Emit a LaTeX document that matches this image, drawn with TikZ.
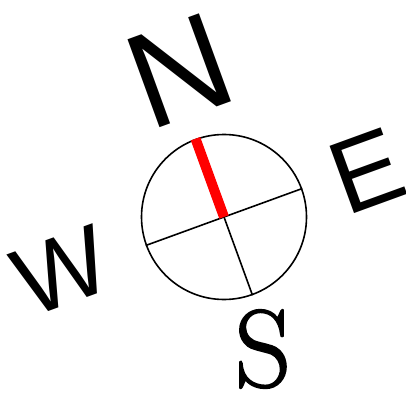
\documentclass[tikz,border=0pt]{standalone}
\usepackage{fontspec}
\newfontfamily\lettersans{Liberation Sans}
\newfontfamily\letterserif[FakeBold=1.6]{Latin Modern Roman}
\begin{document}
\begin{tikzpicture}[x=1pt,y=-1pt,
  ring/.style={draw=black,line width=1.6pt},
  axisline/.style={draw=black,line width=1.6pt},
  needle/.style={draw=red,line width=10pt},
  dirlabel/.style={inner sep=0pt,rotate=20,font=\lettersans\fontsize{#1pt}{#1pt}\selectfont}]
\useasboundingbox (0,0) rectangle (405,414);
\coordinate (c) at (224,217);
\node[circle,ring,minimum size=165pt,inner sep=0pt] (ring) at (c) {};
\draw[axisline] (ring.200) -- (ring.20);
\draw[axisline] (c) -- (ring.-70);
\draw[needle] (c) -- (ring.110);
\node[dirlabel=136] (N) at (180,71) {N};
\node[dirlabel=104] (E) at (367,171) {E};
\node[dirlabel=98] (W) at (61,271) {W};
\node[inner sep=0pt,font=\letterserif\fontsize{110pt}{110pt}\selectfont] (S) at (263,349) {S};
\end{tikzpicture}
\end{document}
